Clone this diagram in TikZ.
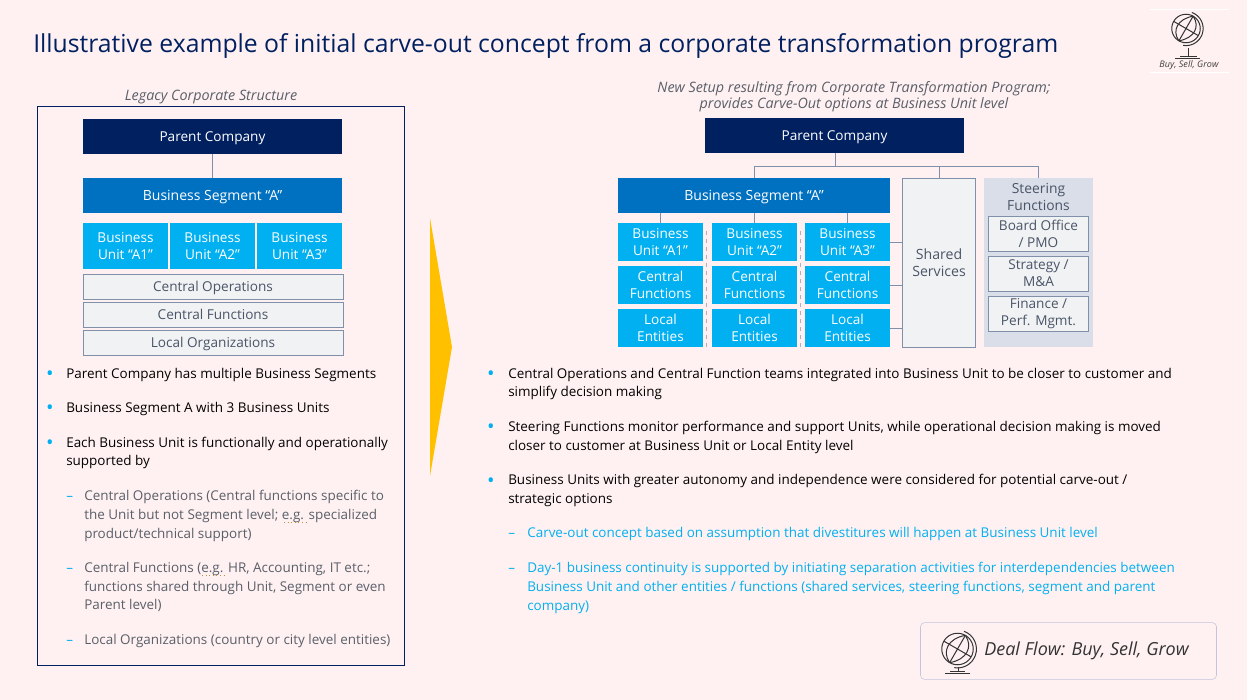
\documentclass[tikz,border=0pt]{standalone}
\usepackage{fontspec}
\usepackage{xcolor}
\setmainfont{Open Sans}
\usetikzlibrary{positioning, calc}

\definecolor{pagebg}{HTML}{FFF1F1}
\definecolor{navyblue}{HTML}{002060}
\definecolor{segblue}{HTML}{0070C0}
\definecolor{unitblue}{HTML}{00B0F0}
\definecolor{palegray}{HTML}{F1F2F4}
\definecolor{edgegray}{HTML}{8090A8}
\definecolor{steerbg}{HTML}{D9DEE8}
\definecolor{boxtext}{HTML}{4A5568}
\definecolor{subtext}{HTML}{595F69}
\definecolor{arrowgold}{HTML}{FFC000}
\definecolor{badgeedge}{HTML}{C4C4DC}
\definecolor{spellmark}{HTML}{C09040}

\tikzset{
  parentbox/.style={fill=navyblue, text=white, font=\fontsize{10.2}{13}\selectfont, minimum width=194.5pt, minimum height=26pt, inner sep=0pt, text height=9.5pt, text depth=2.5pt},
  segbox/.style={fill=segblue, text=white, font=\fontsize{10.5}{13}\selectfont, minimum height=26pt, inner sep=0pt, text height=9.5pt, text depth=2.5pt},
  unitbox/.style={fill=unitblue, text=white, font=\fontsize{10.2}{12.7}\selectfont, align=center, minimum width=64pt, inner sep=0pt},
  grayhbox/.style={draw=edgegray, fill=palegray, text=boxtext, font=\fontsize{10.2}{12.7}\selectfont, align=center, inner sep=0pt},
  graywide/.style={grayhbox, minimum width=195pt, minimum height=18.5pt, text height=9.5pt, text depth=2.5pt},
  bodytext/.style={anchor=west, align=left, inner sep=0pt, font=\fontsize{10.1}{14}\selectfont, text=black},
  subitem/.style={bodytext, text=subtext},
  blueitem/.style={bodytext, text=unitblue},
  dashmark/.style={bodytext, text=unitblue, text height=9.5pt, text depth=2.5pt},
  dotmark/.style={inner sep=0pt, text=unitblue, font=\fontsize{15}{15}\selectfont},
  caption/.style={align=center, inner sep=0pt, text=subtext, font=\itshape\fontsize{10.75}{12.2}\selectfont},
  wire/.style={draw=edgegray, line width=0.75pt},
  iconline/.style={line width=0.75pt, black!80},
  spelling/.style={spellmark, dotted, line width=0.7pt},
  globe/.pic={
    \draw[iconline] (0,0) circle (15);
    \draw[iconline] (-13,-7.5) -- (13,7.5) (-7.5,13) -- (7.5,-13);
    \draw[iconline] (-7.5,13) .. controls (-15,2) and (-9,-10) .. (7.5,-13);
    \draw[iconline] (-7.5,13) .. controls (9,10) and (15,-2) .. (7.5,-13);
    \draw[iconline] (6.2,-16.9) arc (-70:100:18);
  }
}

\begin{document}
\begin{tikzpicture}[x=0.75pt, y=-0.75pt]

    % --- Page ---
    \fill[pagebg] (0,0) rectangle (1247,700);
    \useasboundingbox (0,0) rectangle (1247,700);

    % --- Title ---
    \node[anchor=west, inner sep=0pt, text=navyblue, font=\fontsize{18.55}{22}\selectfont] (title) at (33,46) {Illustrative example of initial carve-out concept from a corporate transformation program};

    % --- Logo (top right) ---
    \draw[white, line width=0.5pt] (1150,9) -- (1229,9) (1150,72) -- (1229,72);
    \pic[scale=0.95] at (1186,28.5) {globe};
    \draw[iconline] (1188,48) -- (1188,56) (1180,56) -- (1197,56) (1175,58.7) -- (1200,58.7);
    \node[inner sep=0pt, text=black!75, font=\itshape\fontsize{6.8}{8}\selectfont] (logotext) at (1189,65) {Buy, Sell, Grow};

    % --- Left panel ---
    \node[caption] (legacycap) at (211,97) {Legacy Corporate Structure};
    \draw[navyblue, line width=0.75pt] (37.5,106.5) rectangle (404.5,665.5);

    \node[parentbox] (parentL) at (212.5,136.5) {Parent Company};
    \node[segbox, minimum width=194.5pt] (segL) at (212.5,195.5) {Business Segment “A”};
    \node[unitbox, minimum height=34.5pt] (unitLa) at (125.5,246) {Business\\Unit “A1”};
    \node[unitbox, minimum height=34.5pt] (unitLb) at (212.5,246) {Business\\Unit “A2”};
    \node[unitbox, minimum height=34.5pt] (unitLc) at (299.5,246) {Business\\Unit “A3”};
    \node[graywide] (opsL) at (213,286.5) {Central Operations};
    \node[graywide] (funcL) at (213,314.5) {Central Functions};
    \node[graywide] (orgL) at (213,342.5) {Local Organizations};
    \draw[wire] (parentL) -- (segL);

    % --- Left text ---
    \node[dotmark] (dotLa) at (50,376) {•};
    \node[bodytext] (txtLa) at (66,375) {Parent Company has multiple Business Segments};
    \node[dotmark] (dotLb) at (50,410) {•};
    \node[bodytext] (txtLb) at (66,409) {Business Segment A with 3 Business Units};
    \node[dotmark] (dotLc) at (50,445) {•};
    \node[bodytext] (txtLc) at (66,453) {Each Business Unit is functionally and operationally\\supported by};
    \node[dashmark] (dashLa) at (66,496) {–};
    \node[subitem] (subLa) at (84,516) {Central Operations (Central functions specific to\\the Unit but not Segment level; e.g. specialized\\product/technical support)};
    \node[dashmark] (dashLb) at (66,568) {–};
    \node[subitem] (subLb) at (84,587) {Central Functions (e.g. HR, Accounting, IT etc.;\\functions shared through Unit, Segment or even\\Parent level)};
    \node[dashmark] (dashLc) at (66,640) {–};
    \node[subitem] (subLc) at (84,641) {Local Organizations (country or city level entities)};

    % Spell check marks
    \draw[spelling] (284,522.5) -- (307,522.5);
    \draw[spelling] (202,575) -- (224,575);

    % --- Transition arrow ---
    \fill[arrowgold] (430,218) -- (452,347) -- (430,476) -- cycle;

    % --- Right panel ---
    \node[caption] (newcap) at (854,97) {New Setup resulting from Corporate Transformation Program;\\provides Carve-Out options at Business Unit level};

    \node[parentbox] (parentR) at (834.5,135.5) {Parent Company};
    \node[segbox, minimum width=204pt] (segR) at (754,195.5) {Business Segment “A”};

    % Business unit columns
    \node[unitbox, minimum height=28.5pt] (unitRa) at (660.5,242) {Business\\Unit “A1”};
    \node[unitbox, minimum height=28.5pt] (unitRb) at (754.5,242) {Business\\Unit “A2”};
    \node[unitbox, minimum height=28.5pt] (unitRc) at (847.5,242) {Business\\Unit “A3”};
    \node[unitbox, minimum height=28.5pt] (funcRa) at (660.5,285) {Central\\Functions};
    \node[unitbox, minimum height=28.5pt] (funcRb) at (754.5,285) {Central\\Functions};
    \node[unitbox, minimum height=28.5pt] (funcRc) at (847.5,285) {Central\\Functions};
    \node[unitbox, minimum height=28.5pt] (localRa) at (660.5,328) {Local\\Entities};
    \node[unitbox, minimum height=28.5pt] (localRb) at (754.5,328) {Local\\Entities};
    \node[unitbox, minimum height=28.5pt] (localRc) at (847.5,328) {Local\\Entities};

    % Shared services and steering
    \node[grayhbox, minimum width=55pt, minimum height=127pt, font=\fontsize{10.6}{12.7}\selectfont] (shared) at (939,262.75) {Shared\\Services};
    \node[fill=steerbg, minimum width=82pt, minimum height=127pt, inner sep=0pt] (steerbg) at (1038.5,262.5) {};
    \node[inner sep=0pt, align=center, text=boxtext, font=\fontsize{10.4}{12.7}\selectfont] (steertxt) at (1038.5,197) {Steering\\Functions};
    \node[grayhbox, minimum width=75pt, minimum height=26pt] (board) at (1038.5,234) {Board Office\\/ PMO};
    \node[grayhbox, minimum width=75pt, minimum height=26pt] (strategy) at (1038.5,273.5) {Strategy /\\M\&A};
    \node[grayhbox, minimum width=75pt, minimum height=26pt] (finance) at (1038.5,314) {Finance /\\Perf. Mgmt.};

    % --- Connecting wires ---
    \coordinate (busR) at (835,166);
    \draw[wire] (parentR.south -| busR) -- (busR);
    \draw[wire] (busR) -| (segR.north);
    \draw[wire] (busR) -| (shared.north);
    \draw[wire] (busR) -| (steerbg.north);
    \draw[wire] (segR.south -| unitRa.north) -- (unitRa.north);
    \draw[wire] (segR.south -| unitRb.north) -- (unitRb.north);
    \draw[wire] (segR.south -| unitRc.north) -- (unitRc.north);
    \draw[wire] (unitRc.east) -- (unitRc.east -| shared.west);
    \draw[wire] (funcRc.east) -- (funcRc.east -| shared.west);
    \draw[wire] (localRc.east) -- (localRc.east -| shared.west);

    % Dashed separators
    \coordinate (sepAtop) at (706.5,231);
    \coordinate (sepAbot) at (706.5,347);
    \coordinate (sepBtop) at (800.5,231);
    \coordinate (sepBbot) at (800.5,348);
    \draw[edgegray!70, dashed, line width=0.6pt] (sepAtop) -- (sepAbot);
    \draw[edgegray!70, dashed, line width=0.6pt] (sepBtop) -- (sepBbot);

    % --- Right text ---
    \node[dotmark] (dotRa) at (491,376) {•};
    \node[bodytext] (txtRa) at (508,384) {Central Operations and Central Function teams integrated into Business Unit to be closer to customer and\\simplify decision making};
    \node[dotmark] (dotRb) at (491,429) {•};
    \node[bodytext] (txtRb) at (508,437.5) {Steering Functions monitor performance and support Units, while operational decision making is moved\\closer to customer at Business Unit or Local Entity level};
    \node[dotmark] (dotRc) at (491,483) {•};
    \node[bodytext] (txtRc) at (508,490.5) {Business Units with greater autonomy and independence were considered for potential carve-out /\\strategic options};
    \node[dashmark] (dashRa) at (508,533) {–};
    \node[blueitem] (subRa) at (527,534) {Carve-out concept based on assumption that divestitures will happen at Business Unit level};
    \node[dashmark] (dashRb) at (508,568) {–};
    \node[blueitem] (subRb) at (527,588) {Day-1 business continuity is supported by initiating separation activities for interdependencies between\\Business Unit and other entities / functions (shared services, steering functions, segment and parent\\company)};

    % --- Deal flow badge ---
    \node[draw=badgeedge, rounded corners=3pt, minimum width=222pt, minimum height=42.5pt, inner sep=0pt] (badge) at (1068.5,651) {};
    \pic[scale=1.05] at (957.5,649) {globe};
    \draw[iconline] (958,667) -- (958,671) (950,671) -- (965,671) (945,673) -- (970,673);
    \node[anchor=west, inner sep=0pt, text=black!80, font=\itshape\fontsize{13.5}{16}\selectfont] (badgetxt) at (984,651) {Deal Flow: Buy, Sell, Grow};

\end{tikzpicture}
\end{document}
